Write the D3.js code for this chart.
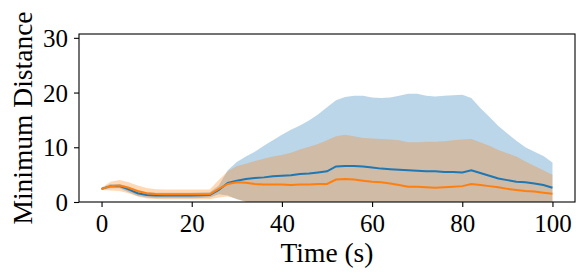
<!DOCTYPE html>
<html>
<head>
<meta charset="utf-8">
<script src="https://cdn.jsdelivr.net/npm/d3@7"></script>
<style>
body { margin: 0; background: #fff; }
text { font-family: "Liberation Serif", "Times New Roman", serif; fill: #000; }
</style>
</head>
<body>
<script>
var width = 585, height = 279;

// time stamps (s)
var times = [0, 2, 4, 6, 8, 10, 12, 14, 16, 18, 20, 22, 24, 26, 28, 30, 32, 34, 36, 38, 40,
  42, 44, 46, 48, 50, 52, 54, 56, 58, 60, 62, 64, 66, 68, 70, 72, 74, 76, 78, 80,
  82, 84, 86, 88, 90, 92, 94, 96, 98, 100];

// blue series: mean and standard deviation
var blueMean = [2.4, 2.9, 2.9, 2.3, 1.6, 1.3, 1.2, 1.2, 1.2, 1.2, 1.2, 1.25, 1.3, 2.2, 3.5, 3.9, 4.2, 4.4, 4.5, 4.7, 4.8,
  4.9, 5.1, 5.2, 5.4, 5.6, 6.5, 6.6, 6.6, 6.5, 6.3, 6.1, 6.0, 5.9, 5.8, 5.7, 5.6, 5.6, 5.5, 5.5, 5.4,
  5.8, 5.3, 4.8, 4.3, 4.0, 3.7, 3.6, 3.4, 3.1, 2.6];
var blueStd = [0.2, 0.4, 0.4, 0.5, 0.5, 0.5, 0.5, 0.5, 0.5, 0.5, 0.5, 0.5, 0.5, 0.8, 2.3, 3.4, 4.1, 4.8, 5.8, 6.6, 7.5,
  8.3, 8.9, 9.7, 10.6, 11.7, 12.1, 12.6, 12.8, 12.9, 12.8, 12.9, 13.1, 13.5, 14.0, 14.1, 13.8, 13.7, 13.9, 14.0, 14.2,
  13.2, 11.9, 10.8, 9.6, 8.5, 7.5, 6.4, 5.8, 5.3, 4.6];

// orange series: mean and standard deviation
var orangeMean = [2.4, 2.9, 3.0, 2.6, 2.0, 1.6, 1.45, 1.4, 1.4, 1.4, 1.4, 1.4, 1.4, 2.4, 3.3, 3.6, 3.5, 3.3, 3.2, 3.2, 3.2,
  3.1, 3.2, 3.2, 3.3, 3.3, 4.1, 4.2, 4.1, 3.9, 3.7, 3.6, 3.4, 3.1, 2.8, 2.8, 2.7, 2.6, 2.7, 2.8, 2.9,
  3.3, 3.1, 2.9, 2.7, 2.4, 2.2, 2.0, 1.9, 1.7, 1.5];
var orangeStd = [0.2, 0.8, 1.0, 1.0, 1.0, 0.95, 0.9, 0.9, 0.9, 0.9, 0.9, 0.9, 0.9, 1.6, 2.3, 3.0, 3.5, 4.2, 4.7, 5.1, 5.4,
  5.9, 6.4, 6.9, 7.3, 8.0, 7.9, 8.1, 7.9, 7.8, 7.9, 7.9, 8.0, 8.2, 8.1, 8.1, 8.3, 8.4, 8.4, 8.5, 8.5,
  8.2, 7.8, 7.4, 6.8, 6.5, 6.1, 5.4, 4.7, 4.1, 3.5];

var xTicks = [0, 20, 40, 60, 80, 100];
var yTicks = [0, 10, 20, 30];

var pLeft = 79, pRight = 575, pTop = 34, pBottom = 202;

var svg = d3.select("body").append("svg")
    .attr("width", width)
    .attr("height", height);

var xScale = d3.scaleLinear().domain([-5, 105]).range([pLeft, pRight]);
var yScale = d3.scaleLinear().domain([0, 30.7]).range([pBottom, pTop]);

svg.append("clipPath").attr("id", "plot")
  .append("rect")
    .attr("x", pLeft).attr("y", pTop)
    .attr("width", pRight - pLeft).attr("height", pBottom - pTop);

var g = svg.append("g").attr("clip-path", "url(#plot)");

var series = [
  { mean: blueMean, std: blueStd, color: "#1f77b4" },
  { mean: orangeMean, std: orangeStd, color: "#ff7f0e" }
];

var band = d3.area()
    .x(function(d) { return xScale(d.t); })
    .y0(function(d) { return yScale(d.m - d.s); })
    .y1(function(d) { return yScale(d.m + d.s); });

var line = d3.line()
    .x(function(d) { return xScale(d.t); })
    .y(function(d) { return yScale(d.m); });

series.forEach(function(s) {
  s.pts = times.map(function(t, i) { return { t: t, m: s.mean[i], s: s.std[i] }; });
  g.append("path")
    .datum(s.pts)
    .attr("d", band)
    .attr("fill", s.color)
    .attr("fill-opacity", 0.3);
});

series.forEach(function(s) {
  g.append("path")
    .datum(s.pts)
    .attr("d", line)
    .attr("fill", "none")
    .attr("stroke", s.color)
    .attr("stroke-width", 2);
});

// axes
var xAxis = svg.append("g")
    .attr("transform", "translate(0," + pBottom + ")")
    .call(d3.axisBottom(xScale).tickValues(xTicks).tickSize(5).tickPadding(5));
var yAxis = svg.append("g")
    .attr("transform", "translate(" + pLeft + ",0)")
    .call(d3.axisLeft(yScale).tickValues(yTicks).tickSize(5).tickPadding(6));

[xAxis, yAxis].forEach(function(a) {
  a.select(".domain").remove();
  a.selectAll("line").attr("stroke", "#000").attr("stroke-width", 1.1);
  a.selectAll("text")
    .style("font-family", "'Liberation Serif', serif")
    .style("font-size", "25px")
    .attr("fill", "#000");
});
xAxis.selectAll("text").attr("dy", "0.8em");
yAxis.selectAll("text").attr("dy", "0.34em");

svg.append("rect")
    .attr("x", pLeft).attr("y", pTop)
    .attr("width", pRight - pLeft).attr("height", pBottom - pTop)
    .attr("fill", "none")
    .attr("stroke", "#000")
    .attr("stroke-width", 1.1);

svg.append("text")
    .attr("x", (pLeft + pRight) / 2)
    .attr("y", 262)
    .attr("text-anchor", "middle")
    .style("font-size", "27.5px")
    .text("Time (s)");

svg.append("text")
    .attr("transform", "translate(" + 32 + "," + (pTop + pBottom) / 2 + ") rotate(-90)")
    .attr("text-anchor", "middle")
    .style("font-size", "27.5px")
    .text("Minimum Distance");
</script>
</body>
</html>
